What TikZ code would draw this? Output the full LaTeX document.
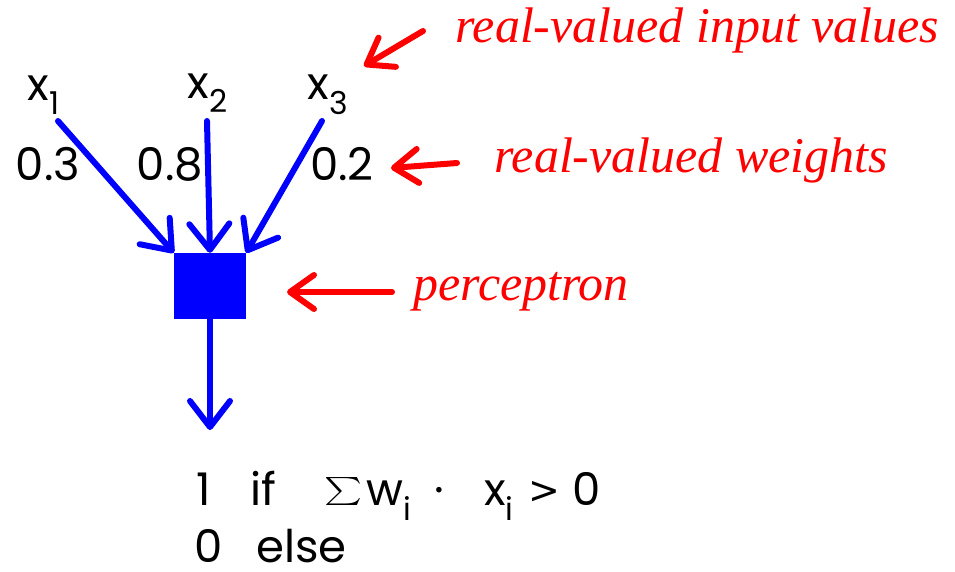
\documentclass[tikz,border=0pt]{standalone}
\usepackage{fontspec}
\usepackage{graphicx}
\setmainfont{Poppins}
\newfontfamily\handfont{Liberation Serif}
\newfontfamily\symfont{DejaVu Sans}
\usetikzlibrary{arrows.meta,positioning}
\definecolor{pblue}{rgb}{0,0,1}
\definecolor{pred}{rgb}{1,0,0}

\begin{document}
\begin{tikzpicture}[x=1pt,y=-1pt,
    txt/.style={inner sep=0pt,font=\fontsize{45}{50}\selectfont},
    rule/.style={txt,anchor=base west},
    hand/.style={inner sep=0pt,text=pred,font=\handfont\itshape\fontsize{50}{56}\selectfont},
    barrow/.style={line width=6pt,draw=pblue,line cap=round,
        -{Straight Barb[length=26pt,width=40pt,line cap=round,line join=round]}},
    rarrow/.style={line width=6pt,draw=pred,line cap=round,
        -{Straight Barb[length=24pt,width=34pt,line cap=round,line join=round]}}]
                \useasboundingbox (0,0) rectangle (955,571);
                %Inputs and weights
                \node[txt] (x1) at (44,95) {x\textsubscript{1}};
                \node[txt] (x2) at (208,93) {x\textsubscript{2}};
                \node[txt] (x3) at (328,95) {x\textsubscript{3}};
                \node[txt] (w1) at (48,164) {0.3};
                \node[txt] (w2) at (170,164) {0.8};
                \node[txt] (w3) at (342,164) {0.2};
                %Perceptron
                \node[fill=pblue,minimum width=72pt,minimum height=66pt,inner sep=0pt] (p) at (210,286) {};
                \coordinate (s1) at (58,121);
                \coordinate (s2) at (207,121);
                \coordinate (s3) at (322,121);
                \coordinate (out) at (210,430);
                \draw[barrow] (s1) -- (p.north west);
                \draw[barrow] (s2) -- (p.north);
                \draw[barrow] (s3) -- (p.north east);
                \draw[barrow] (p.south) -- (out);
                %Output rule
                \node[rule] (one) at (196,505) {1};
                \node[rule] (if) at (250,505) {if};
                \node[inner sep=0pt,anchor=south west] (sum) at (324,506) {\scalebox{3.6}[2.8]{$\sum$}};
                \node[rule] (wi) at (366,505) {w\textsubscript{i}};
                \node[rule] (dot) at (434,505) {·};
                \node[rule] (xi) at (484,505) {x\textsubscript{i}};
                \node[rule,font=\symfont\fontsize{38}{44}\selectfont] (gt) at (528,503) {>};
                \node[rule] (zero) at (572,505) {0};
                \node[rule] (nul) at (194,562) {0};
                \node[rule] (else) at (256,562) {else};
                %Annotations
                \node[hand,anchor=west] (lin) at (455,30) {real-valued input values};
                \node[hand,anchor=west] (lw) at (494,160) {real-valued weights};
                \node[hand,anchor=west] (lp) at (413,292) {perceptron};
                \coordinate (a1s) at (423,31);
                \coordinate (a1t) at (364,66);
                \coordinate (a2s) at (457,163);
                \coordinate (a2t) at (391,168);
                \coordinate (a3s) at (392,292);
                \coordinate (a3t) at (287,292);
                \draw[rarrow] (a1s) -- (a1t);
                \draw[rarrow] (a2s) -- (a2t);
                \draw[rarrow] (a3s) -- (a3t);
\end{tikzpicture}
\end{document}
